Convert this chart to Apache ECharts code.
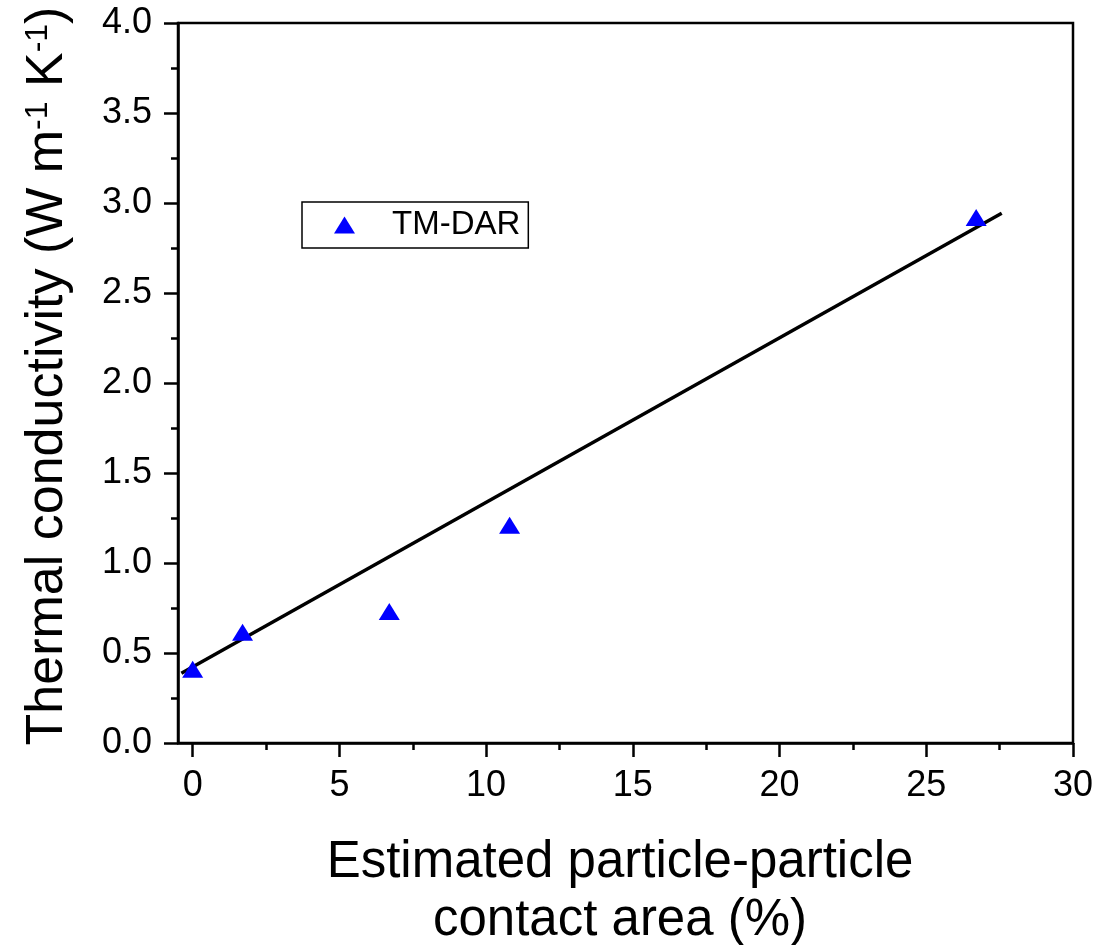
<!DOCTYPE html>
<html>
<head>
<meta charset="utf-8">
<title>Thermal conductivity vs. contact area</title>
<script src="https://cdn.jsdelivr.net/npm/echarts@6/dist/echarts.min.js"></script>
<style>
  html, body { margin: 0; padding: 0; background: #fff; }
  #chart { width: 1099px; height: 945px; }
</style>
</head>
<body>
<div id="chart"></div>
<script>
// Measured samples (TM-DAR)
const contactArea = [0, 1.7, 6.7, 10.8, 26.7];          // %
const conductivity = [0.41, 0.615, 0.73, 1.21, 2.92];    // W m^-1 K^-1

// Linear trend line, drawn between its two end points
const fitX = [-0.385, 27.57];
const fitY = [0.387, 2.943];

// Axis tick positions
const xMajorTicks = [0, 5, 10, 15, 20, 25, 30];
const xMinorTicks = [2.5, 7.5, 12.5, 17.5, 22.5, 27.5];
const yTickLabels = ['0.0', '0.5', '1.0', '1.5', '2.0', '2.5', '3.0', '3.5', '4.0'];

const FONT = '"Liberation Sans", Arial, sans-serif';
const AXIS_W = 2.5;

const chart = echarts.init(document.getElementById('chart'), null, { renderer: 'canvas' });

const scatterData = contactArea.map((x, i) => [x, conductivity[i]]);
const fitData = fitX.map((x, i) => [x, fitY[i]]);

chart.setOption({
  backgroundColor: '#ffffff',
  animation: false,
  grid: {
    left: 178, right: 26, top: 23, bottom: 202,
    containLabel: false,
    outerBoundsMode: 'none',
    show: true, borderColor: '#000', borderWidth: AXIS_W, backgroundColor: 'transparent'
  },
  legend: {
    left: 302, top: 202,
    orient: 'vertical',
    data: ['TM-DAR'],
    icon: 'triangle',
    itemWidth: 21, itemHeight: 17,
    itemStyle: { color: '#0000ff', opacity: 1 },
    borderColor: '#000', borderWidth: 1.5, borderRadius: 0,
    padding: [5, 8, 5, 32],
    textStyle: {
      fontFamily: FONT, fontSize: 33, color: '#000', lineHeight: 36,
      padding: [0, 0, 0, 32]
    }
  },
  xAxis: [
    {
      type: 'value', min: -0.5, max: 30,
      position: 'bottom',
      name: 'Estimated particle-particle\ncontact area (%)',
      nameLocation: 'middle', nameGap: 91,
      nameTextStyle: { fontFamily: FONT, fontSize: 51, color: '#000', lineHeight: 58,
                       padding: [0, 11, 0, 0] },
      axisLine: { show: true, onZero: false, lineStyle: { color: '#000', width: AXIS_W } },
      axisTick: { show: true, inside: false, length: 14, customValues: xMajorTicks,
                  lineStyle: { color: '#000', width: AXIS_W } },
      axisLabel: { show: true, customValues: xMajorTicks, margin: 25,
                   fontFamily: FONT, fontSize: 36, color: '#000' },
      splitLine: { show: false }
    },
    {
      // minor ticks only
      type: 'value', min: -0.5, max: 30,
      position: 'bottom', offset: 0,
      axisLine: { show: false, onZero: false },
      axisTick: { show: true, inside: false, length: 7, customValues: xMinorTicks,
                  lineStyle: { color: '#000', width: AXIS_W } },
      axisLabel: { show: false },
      splitLine: { show: false }
    }
  ],
  yAxis: {
    type: 'value', min: 0, max: 4, interval: 0.5,
    position: 'left',
    name: 'Thermal conductivity (W m{sup|-1} K{sup|-1})',
    nameLocation: 'middle', nameGap: 104, nameRotate: 90,
    nameTextStyle: {
      fontFamily: FONT, fontSize: 52, color: '#000',
      padding: [0, 0, 0, 14],
      rich: {
        sup: { fontFamily: FONT, fontSize: 32, color: '#000', verticalAlign: 'top', lineHeight: 52, padding: [0, 0, 22, 0] }
      }
    },
    axisLine: { show: true, onZero: false, lineStyle: { color: '#000', width: AXIS_W } },
    axisTick: { show: true, inside: false, length: 14, lineStyle: { color: '#000', width: AXIS_W } },
    minorTick: { show: true, splitNumber: 2, length: 7, lineStyle: { color: '#000', width: AXIS_W } },
    axisLabel: {
      margin: 26, fontFamily: FONT, fontSize: 36, color: '#000',
      formatter: (v) => yTickLabels[Math.round(v / 0.5)]
    },
    splitLine: { show: false },
    minorSplitLine: { show: false }
  },
  series: [
    {
      name: 'Linear fit',
      type: 'line',
      data: fitData,
      showSymbol: false,
      symbol: 'none',
      lineStyle: { color: '#000', width: 3.5 },
      silent: true,
      z: 2
    },
    {
      name: 'TM-DAR',
      type: 'scatter',
      data: scatterData,
      symbol: 'triangle',
      symbolSize: [21, 17],
      itemStyle: { color: '#0000ff', opacity: 1 },
      z: 3
    }
  ]
});
</script>
</body>
</html>
